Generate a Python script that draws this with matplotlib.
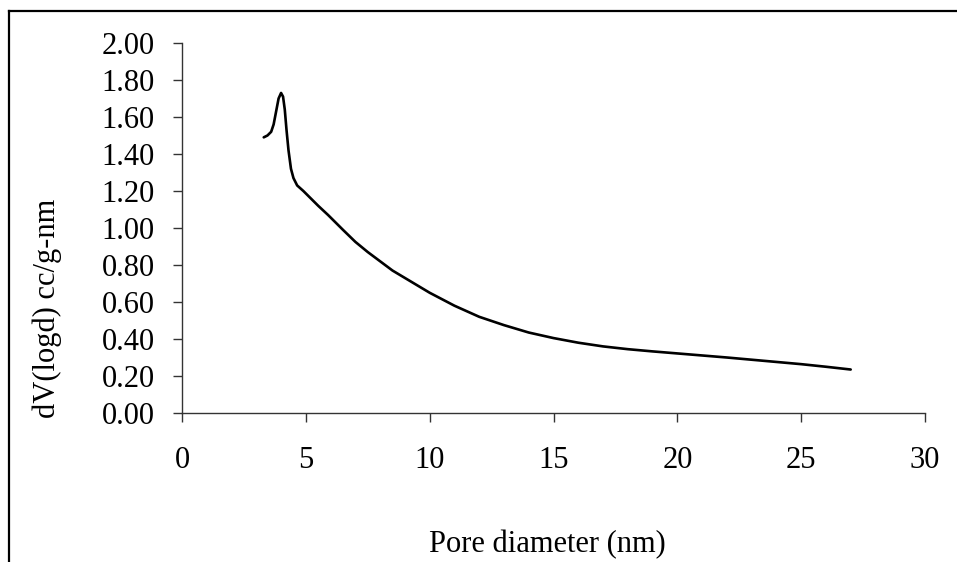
import matplotlib
matplotlib.use("Agg")
import matplotlib.pyplot as plt
from matplotlib.lines import Line2D
import numpy as np

# pore size distribution
pore_d = [3.3, 3.45, 3.6, 3.7, 3.8, 3.9, 4.0, 4.08, 4.15, 4.22, 4.3, 4.4, 4.5,
          4.65, 4.9, 5.2, 5.5, 5.9, 6.5, 7.0, 7.5, 8.0, 8.5, 9.0, 9.5, 10.0,
          11.0, 12.0, 13.0, 14.0, 15.0, 16.0, 17.0, 18.0, 19.0, 20.0,
          21.0, 22.0, 23.0, 24.0, 25.0, 26.0, 27.0]
dv_logd = [1.49, 1.50, 1.52, 1.56, 1.63, 1.70, 1.73, 1.71, 1.64, 1.53, 1.42, 1.32, 1.27,
           1.23, 1.20, 1.16, 1.12, 1.07, 0.99, 0.925, 0.87, 0.82, 0.77, 0.73, 0.69, 0.65,
           0.58, 0.52, 0.475, 0.435, 0.405, 0.38, 0.36, 0.345, 0.333, 0.322,
           0.311, 0.30, 0.288, 0.276, 0.264, 0.25, 0.235]

x_ticks = [0, 5, 10, 15, 20, 25, 30]
y_ticks = np.arange(0, 2.01, 0.2)

plt.rcParams['font.family'] = ['Liberation Serif', 'DejaVu Serif']

fig = plt.figure(figsize=(9.57, 5.62), dpi=100)
ax = fig.add_axes([182/957, 1-413/562, (925-182)/957, (413-43)/562])

ax.plot(pore_d, dv_logd, color='black', linewidth=1.9,
        solid_capstyle='round', solid_joinstyle='round')

ax.set_xlim(0, 30)
ax.set_ylim(0, 2.0)
ax.set_xticks(x_ticks)
ax.set_yticks(y_ticks)
ax.set_yticklabels(['%.2f' % v for v in y_ticks])

for s in ['top', 'right']:
    ax.spines[s].set_visible(False)
for s in ['left', 'bottom']:
    ax.spines[s].set_linewidth(1.0)
    ax.spines[s].set_color('#333333')

ax.tick_params(axis='both', direction='out', length=6.5, width=1.0,
               color='#333333', labelsize=22)
ax.tick_params(axis='y', pad=13)
ax.tick_params(axis='x', pad=17)

fig.text(547/957, 1-545/562, 'Pore diameter (nm)', fontsize=22,
         ha='center', va='center')
fig.text(47/957, 1-308/562, 'dV(logd) cc/g-nm', fontsize=22,
         ha='center', va='center', rotation=90)

# frame around the picture (left and top only)
fig.add_artist(Line2D([9/957, 9/957], [0, 1-11/562], color='black',
                      linewidth=1.6, transform=fig.transFigure))
fig.add_artist(Line2D([9/957, 1], [1-11/562, 1-11/562], color='black',
                      linewidth=1.6, transform=fig.transFigure))

fig.savefig('out.png', dpi=100)
